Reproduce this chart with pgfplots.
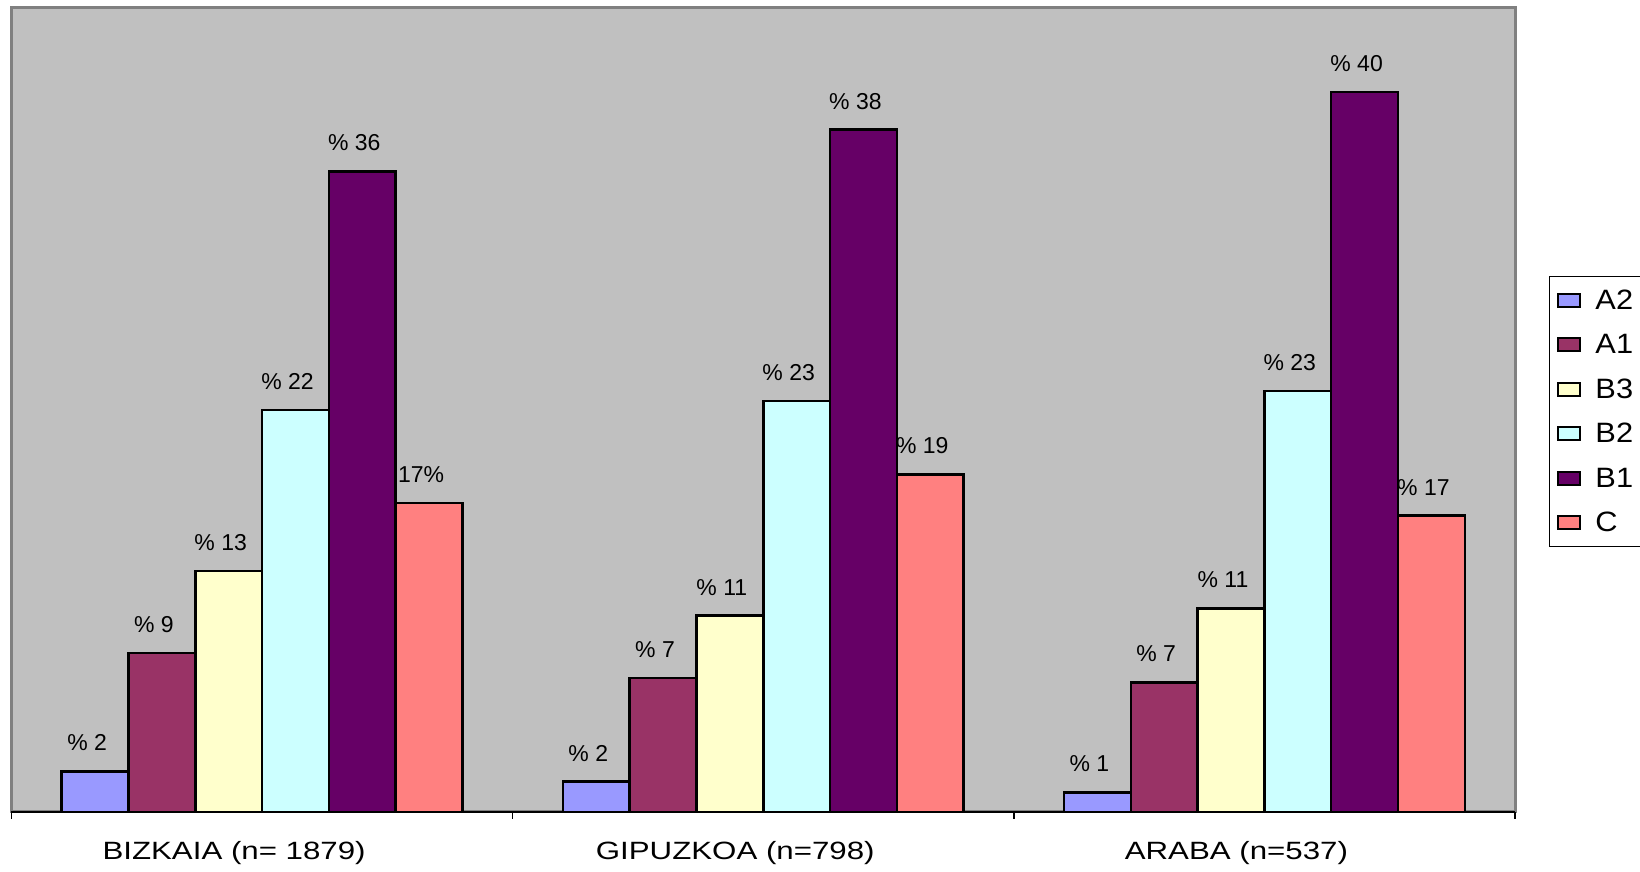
\documentclass[border=0pt]{standalone}
\usepackage{pgfplots}
\pgfplotsset{compat=1.18}
\usepackage{graphicx}
\usepackage{fontspec}
\setmainfont{Liberation Sans}

\definecolor{cA2}{HTML}{9999FF}
\definecolor{cA1}{HTML}{993366}
\definecolor{cB3}{HTML}{FFFFCC}
\definecolor{cB2}{HTML}{CCFFFF}
\definecolor{cB1}{HTML}{660066}
\definecolor{cC}{HTML}{FF8080}
\definecolor{plotbg}{HTML}{C0C0C0}
\definecolor{frame}{HTML}{808080}

\newcommand{\wide}[1]{\scalebox{1.25}[1]{#1}}
\newcommand{\lw}[1]{\scalebox{1.1}[1]{#1}}

\begin{document}
\begin{tikzpicture}
\begin{axis}[
    scale only axis,
    width=751.75pt, height=402pt,
    xmin=-0.5, xmax=2.5, ymin=0, ymax=45,
    ybar=0pt, bar width=33.4pt,
    axis background/.style={fill=plotbg},
    axis line style={draw=frame, line width=1.5pt},
    ytick=\empty,
    xtick={0,1,2},
    xticklabels={\wide{BIZKAIA (n= 1879)}, \wide{GIPUZKOA (n=798)}, \wide{ARABA (n=537)}},
    major tick length=0pt,
    xticklabel style={inner sep=0pt, anchor=north, yshift=-14.5pt, xshift=-14pt,
        font=\fontsize{12.5}{14}\selectfont},
    extra x ticks={-0.5,0.5,1.5,2.5},
    extra x tick labels={},
    extra x tick style={major tick length=3.5pt, tick align=outside, tickpos=bottom,
        tick style={black, line width=0.8pt}},
    point meta=explicit symbolic,
    nodes near coords,
    every node near coord/.append style={anchor=south, inner sep=0pt, yshift=9.5pt, xshift=-4pt,
        font=\fontsize{11.5}{13}\selectfont, black},
    every axis plot/.append style={draw=black, line width=1.25pt},
    legend style={at={(1.0226,0.667)}, anchor=north west, draw=black, line width=0.5pt,
        fill=white, inner xsep=4pt, inner ysep=5pt, row sep=8.25pt,
        nodes={inner sep=1.5pt, text height=10pt, text depth=1pt, anchor=west},
        font=\fontsize{14}{16}\selectfont, cells={anchor=west},
        /tikz/every odd column/.append style={column sep=5.5pt}},
    legend image code/.code={\draw[#1, line width=1pt] (0pt,-3.25pt) rectangle (11pt,3.25pt);},
    clip=false,
]
\addplot[fill=cA2] coordinates {(0,2.28) [\% 2] (1,1.7) [\% 2] (2,1.1) [\% 1]};
\addplot[fill=cA1] coordinates {(0,8.9) [\% 9] (1,7.5) [\% 7] (2,7.26) [\% 7]};
\addplot[fill=cB3] coordinates {(0,13.5) [\% 13] (1,11.0) [\% 11] (2,11.4) [\% 11]};
\addplot[fill=cB2] coordinates {(0,22.5) [\% 22] (1,23.0) [\% 23] (2,23.55) [\% 23]};
\addplot[fill=cB1] coordinates {(0,35.85) [\% 36] (1,38.2) [\% 38] (2,40.3) [\% 40]};
\addplot[fill=cC] coordinates {(0,17.3) [17\%] (1,18.9) [\% 19] (2,16.6) [\% 17]};
\legend{\lw{A2},\lw{A1},\lw{B3},\lw{B2},\lw{B1},\lw{C}}
\draw[black, line width=1.2pt] (rel axis cs:0,0) -- (rel axis cs:1,0);
\end{axis}
\pgfresetboundingbox
\path (-5.75pt,-30pt) rectangle (814.25pt,406pt);
\end{tikzpicture}
\end{document}
